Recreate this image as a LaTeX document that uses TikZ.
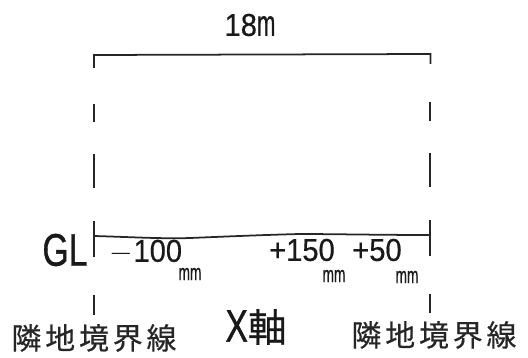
\documentclass[tikz,border=0pt]{standalone}
\usepackage{fontspec}
\newfontfamily\valuefont[FakeStretch=0.92,FakeBold=0.5]{Liberation Sans}
\newfontfamily\unitfont[FakeStretch=0.6,FakeBold=0.5]{Liberation Sans}
\newfontfamily\groundfont[FakeStretch=0.74,FakeBold=0.8]{Liberation Sans}
\newfontfamily\cjkfont[LetterSpace=13,FakeBold=0.4]{Noto Sans CJK JP}
\newfontfamily\cjkaxis[FakeBold=0.6]{Noto Sans CJK JP}

\begin{document}
\begin{tikzpicture}[x=0.02cm,y=-0.02cm,
    boundary/.style={line width=1pt,black!85},
    value/.style={font={\fontsize{18}{19}\valuefont},inner sep=0pt,black!90},
    unit/.style={font={\fontsize{13}{14}\unitfont},inner sep=0pt,black!90},
    neighbour/.style={font={\fontsize{17}{18}\cjkfont},inner sep=0pt,black!85}]
\useasboundingbox (0,0) rectangle (528,358);
% dimension bracket
\draw[boundary] (94,68)--(94,55)--(430.5,54)--(430.5,64);
\node[value] (width) at (250,25) {18{\fontsize{21}{22}\unitfont m}};
% left and right boundary
\draw[boundary] (94,104)--(94,122);
\draw[boundary] (94,154)--(94,188);
\draw[boundary] (94,221)--(94,257);
\draw[boundary] (94,295)--(94,315);
\draw[boundary] (430,102)--(430,121);
\draw[boundary] (430,153)--(430,187);
\draw[boundary] (430,220)--(430,256);
\draw[boundary] (430,294)--(430,313);
% ground
\draw[boundary] (94,236) .. controls (130,237) and (165,239) .. (190,238)
    .. controls (215,237) and (260,235) .. (300,234)
    .. controls (330,234) and (380,235) .. (430,235);
\node[font={\fontsize{26}{27}\groundfont},inner sep=0pt,black!90] (gl) at (65,250) {GL};
\node[value] (lowL) at (146,252) {$-$100};
\node[unit] (unitL) at (190,274) {mm};
\node[value] (rise) at (302,250) {+150};
\node[unit] (unitM) at (334,276) {mm};
\node[value] (riseR) at (377,250) {+50};
\node[unit] (unitR) at (407,277) {mm};
% captions
\node[neighbour] (boundL) at (94,338) {隣地境界線};
\node[neighbour] (boundR) at (434,335) {隣地境界線};
\node[inner sep=0pt,black!90] (axis) at (256,327) {{\fontsize{26}{27}\groundfont X}{\fontsize{22}{23}\cjkaxis 軸}};
\end{tikzpicture}
\end{document}
